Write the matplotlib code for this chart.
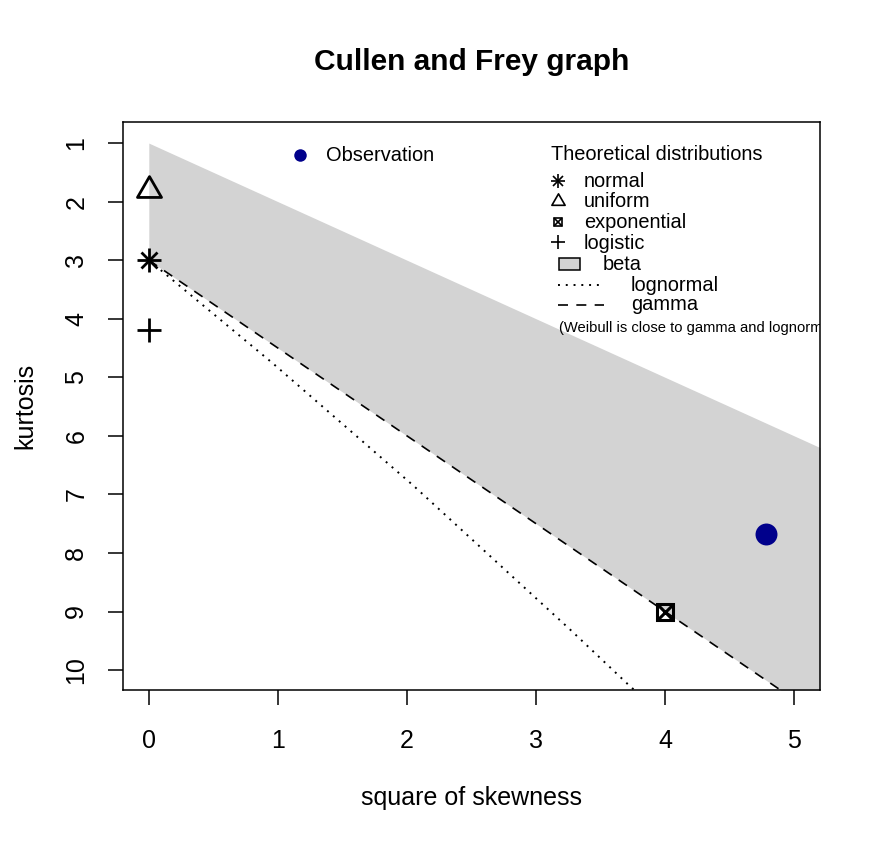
import matplotlib.pyplot as plt
from matplotlib.patches import Rectangle
from matplotlib.path import Path

plt.rcParams['font.family'] = ['Liberation Sans', 'DejaVu Sans']

# observed point (square of skewness, kurtosis)
obs_skew2 = [4.78]
obs_kurt = [7.68]

# theoretical distributions
normal_pt = (0, 3)
uniform_pt = (0, 1.8)
expo_pt = (4, 9)
logis_pt = (0, 4.2)

# beta region: between kurtosis = skew2 + 1 and the gamma line
beta_x = [0, 5.2]
beta_top = [1, 6.2]
beta_bottom = [3, 10.8]

# lognormal curve
lnorm_x = [0, 0.96, 2.05, 3.27, 3.73, 4.11]
lnorm_y = [3, 4.76, 6.85, 9.32, 10.28, 11.0]

# gamma line
gamma_x = [0, 5.2]
gamma_y = [3, 10.8]

W, H = 882, 844
fig = plt.figure(figsize=(W / 100, H / 100), dpi=100)
ax = fig.add_axes([123 / W, 1 - 690 / H, 697 / W, 568 / H])

ax.fill_between(beta_x, beta_top, beta_bottom, color='#D3D3D3', lw=0, zorder=1)
ax.plot(lnorm_x, lnorm_y, color='black', lw=1.4, linestyle=(0, (1, 3)), zorder=2)
ax.plot(gamma_x, gamma_y, color='black', lw=1.2, linestyle=(0, (6, 5)), zorder=2)

# open triangle centred on its centroid, like R's pch 2
tri = Path([(-1, -0.577), (1, -0.577), (0, 1.155), (-1, -0.577)], closed=True)
ax.plot(*normal_pt, marker='+', ms=17.3, mew=2, color='black', zorder=3)
ax.plot(*normal_pt, marker='x', ms=12.2, mew=2, color='black', zorder=3)
ax.plot(*uniform_pt, marker=tri, ms=20, mew=2, mfc='none', mec='black', zorder=3)
ax.plot(*expo_pt, marker='s', ms=12.2, mew=2.2, mfc='none', mec='black', zorder=3)
ax.plot(*expo_pt, marker='x', ms=12.2, mew=2.2, color='black', zorder=3)
ax.plot(*logis_pt, marker='+', ms=16.6, mew=2, color='black', zorder=3)
ax.plot(obs_skew2, obs_kurt, 'o', ms=15.8, color='#00008B', mew=0, zorder=4)

ax.set_xlim(-0.2, 5.2)
ax.set_ylim(10.34, 0.64)
ax.set_xticks(range(0, 6))
ax.set_yticks(range(1, 11))
ax.tick_params(axis='both', length=11, width=1.1, labelsize=18)
ax.tick_params(axis='x', pad=17)
ax.tick_params(axis='y', pad=14)
for lab in ax.get_yticklabels():
    lab.set_rotation(90)
    lab.set_va('center')
for sp in ax.spines.values():
    sp.set_linewidth(1.1)

ax.set_xlabel('square of skewness', fontsize=18, va='center')
ax.xaxis.set_label_coords(0.5, (690 - 798) / 568)
ax.set_ylabel('kurtosis', fontsize=18, va='center')
ax.yaxis.set_label_coords((25 - 123) / 697, 0.5)
fig.text(0.5 * (123 + 820) / W, 1 - 62 / H, 'Cullen and Frey graph', fontsize=21.5,
         fontweight='bold', ha='center', va='center')


# legend keys placed in pixel positions of the reference
def lg(px, py):
    return (px - 123) / 697, (690 - py) / 568


fs = 14.4
ax.plot(*lg(300, 155), 'o', ms=9, color='#00008B', mew=0, transform=ax.transAxes, clip_on=False)
ax.text(*lg(326, 161), 'Observation', fontsize=fs, va='baseline', transform=ax.transAxes)

ax.text(*lg(551, 160), 'Theoretical distributions', fontsize=fs, va='baseline', transform=ax.transAxes)
keys = [('normal', 181, 187), ('uniform', 201, 207), ('exponential', 222, 228), ('logistic', 242, 249)]
for name, yc, yb in keys:
    ax.text(*lg(584, yb), name, fontsize=fs, va='baseline', transform=ax.transAxes)
kx, ky = lg(558, 181)
ax.plot(kx, ky, marker='+', ms=10, mew=1.2, color='black', transform=ax.transAxes)
ax.plot(kx, ky, marker='x', ms=7.1, mew=1.2, color='black', transform=ax.transAxes)
ax.plot(*lg(558, 201), marker=tri, ms=11, mew=1.2, mfc='none', mec='black', transform=ax.transAxes)
ax.plot(*lg(558, 222), marker='s', ms=6.3, mew=1.2, mfc='none', mec='black', transform=ax.transAxes)
ax.plot(*lg(558, 222), marker='x', ms=6.3, mew=1.2, color='black', transform=ax.transAxes)
ax.plot(*lg(558, 242), marker='+', ms=10, mew=1.2, color='black', transform=ax.transAxes)

bx, by = lg(559, 270)
bw = 21 / 697
bh = 12 / 568
ax.add_patch(Rectangle((bx, by), bw, bh, transform=ax.transAxes, facecolor='#D3D3D3',
                       edgecolor='black', lw=1.1))
ax.text(*lg(603, 270), 'beta', fontsize=fs, va='baseline', transform=ax.transAxes)

x0, y0 = lg(558, 285)
x1, _ = lg(604, 285)
ax.plot([x0, x1], [y0, y0], color='black', lw=1.4, linestyle=(0, (1, 3)), transform=ax.transAxes)
ax.text(*lg(631, 291), 'lognormal', fontsize=fs, va='baseline', transform=ax.transAxes)
x0, y0 = lg(558, 305)
ax.plot([x0, x1], [y0, y0], color='black', lw=1.2, linestyle=(0, (6, 5)), transform=ax.transAxes)
ax.text(*lg(631, 310), 'gamma', fontsize=fs, va='baseline', transform=ax.transAxes)

ax.text(*lg(559, 332), '(Weibull is close to gamma and lognormal)', fontsize=10.6,
        va='baseline', transform=ax.transAxes, clip_on=True)

fig.savefig('out.png', dpi=100)
